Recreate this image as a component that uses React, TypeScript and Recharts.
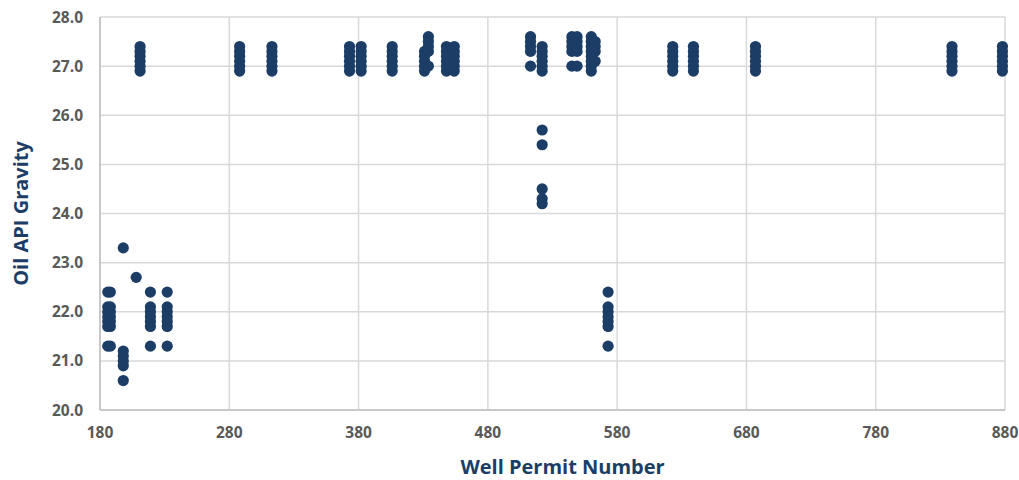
import { ScatterChart, Scatter, XAxis, YAxis, CartesianGrid } from "recharts";

// Each permit number has a stack of gravity readings.
const permitNumbers = [
  186, 188, 198, 208, 211, 219, 232, 288, 313, 373, 382, 406, 431, 434, 448, 454,
  513, 522, 545, 549, 560, 563, 573, 623, 639, 687, 839, 878,
];

const topStack = [26.9, 27.0, 27.1, 27.2, 27.3, 27.4];
const lowStack = [22.4, 22.1, 22.0, 21.9, 21.8, 21.7, 21.3];

const gravityReadings: number[][] = [
  lowStack,
  lowStack,
  [23.3, 21.2, 21.1, 21.0, 20.9, 20.6],
  [22.7],
  topStack,
  lowStack,
  lowStack,
  topStack,
  topStack,
  topStack,
  topStack,
  topStack,
  [26.9, 27.0, 27.1, 27.2, 27.3],
  [27.6, 27.5, 27.4, 27.3, 27.0],
  topStack,
  topStack,
  [27.6, 27.5, 27.4, 27.3, 27.0],
  [26.9, 27.0, 27.1, 27.2, 27.3, 27.4, 25.7, 25.4, 24.5, 24.3, 24.2],
  [27.6, 27.5, 27.4, 27.3, 27.0],
  [27.6, 27.5, 27.4, 27.3, 27.0],
  [27.6, 27.5, 27.4, 27.3, 27.2, 27.1, 27.0, 26.9],
  [27.5, 27.4, 27.3, 27.1],
  lowStack,
  topStack,
  topStack,
  topStack,
  topStack,
  topStack,
];

const xTicks = [180, 280, 380, 480, 580, 680, 780, 880];
const yTicks = [20, 21, 22, 23, 24, 25, 26, 27, 28];

const NAVY = "#1b3d66";
const FONT = "'Open Sans', sans-serif";

const points = permitNumbers.flatMap((permit, i) =>
  gravityReadings[i].map((gravity) => ({ permit, gravity }))
);

// the chart spans the whole 1019x480 page, so drop the default body margin
if (typeof document !== "undefined") {
  document.body.style.margin = "0";
}

const Dot = (props: any) => <circle cx={props.cx} cy={props.cy} r={5.6} fill={NAVY} />;

const tickStyle = { fill: "#595959", fontSize: 15.5, fontWeight: 700, fontFamily: FONT };

export default function App() {
  return (
    <ScatterChart width={1019} height={480} margin={{ top: 17, right: 14, left: 0, bottom: 0 }}>
      <CartesianGrid stroke="#d9d9d9" strokeWidth={1.5} />
      <XAxis
        type="number"
        dataKey="permit"
        domain={[180, 880]}
        ticks={xTicks}
        height={70}
        tickLine={false}
        tickMargin={11}
        axisLine={{ stroke: "#bfbfbf", strokeWidth: 1.5 }}
        tick={tickStyle}
        label={{
          content: ({ viewBox }: any) => (
            <text
              x={viewBox.x + viewBox.width / 2 + 10}
              y={viewBox.y + viewBox.height - 6}
              textAnchor="middle"
              fill={NAVY}
              fontSize={20}
              fontWeight={700}
              fontFamily={FONT}
            >
              Well Permit Number
            </text>
          ),
        }}
      />
      <YAxis
        type="number"
        dataKey="gravity"
        domain={[20, 28]}
        ticks={yTicks}
        width={100}
        tickLine={false}
        tickMargin={11}
        axisLine={{ stroke: "#bfbfbf", strokeWidth: 1.5 }}
        tickFormatter={(v: number) => v.toFixed(1)}
        tick={tickStyle}
        label={{
          content: ({ viewBox }: any) => {
            const cx = 20;
            const cy = viewBox.y + viewBox.height / 2;
            return (
              <text
                x={cx}
                y={cy}
                transform={`rotate(-90, ${cx}, ${cy})`}
                textAnchor="middle"
                dominantBaseline="central"
                fill={NAVY}
                fontSize={20}
                fontWeight={700}
                fontFamily={FONT}
              >
                Oil API Gravity
              </text>
            );
          },
        }}
      />
      <Scatter data={points} shape={Dot} isAnimationActive={false} />
    </ScatterChart>
  );
}
